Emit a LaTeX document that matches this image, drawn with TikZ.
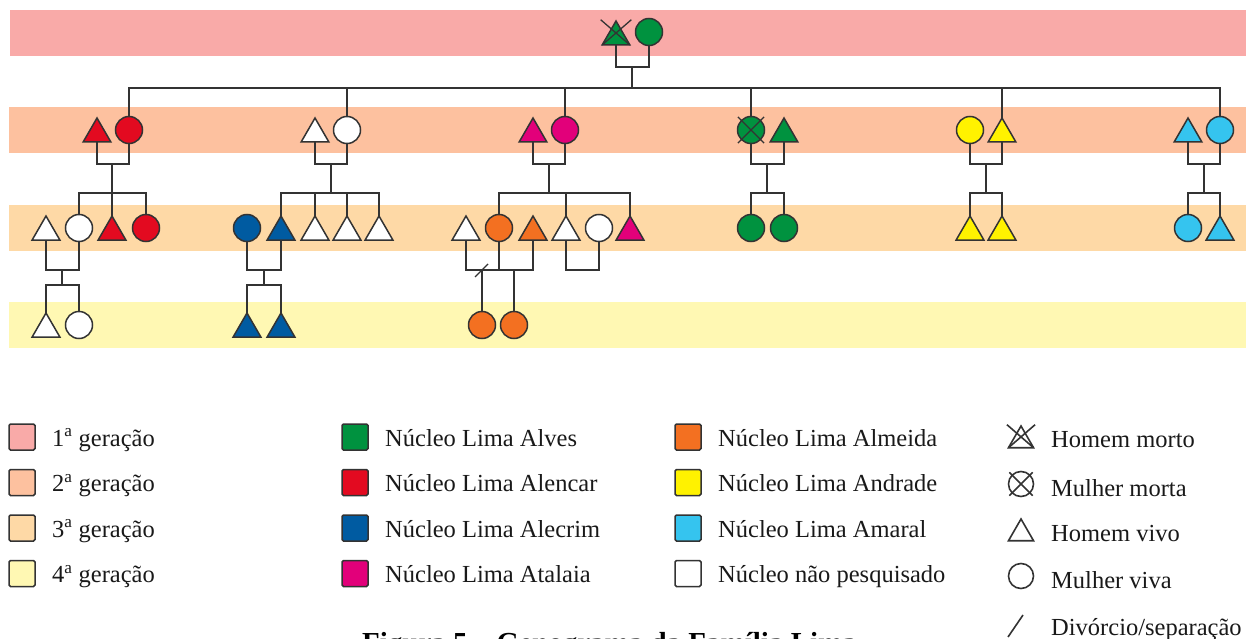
\documentclass[tikz,border=0pt]{standalone}
\usepackage{fontspec}
\setmainfont{Liberation Serif}
\usetikzlibrary{shapes.geometric}
\definecolor{gena}{HTML}{F9AAA8}
\definecolor{genb}{HTML}{FDC19F}
\definecolor{genc}{HTML}{FED9A6}
\definecolor{gend}{HTML}{FFF8B3}
\definecolor{alves}{HTML}{00923F}
\definecolor{alencar}{HTML}{E30A20}
\definecolor{alecrim}{HTML}{005BA1}
\definecolor{atalaia}{HTML}{E2007A}
\definecolor{almeida}{HTML}{F37021}
\definecolor{andrade}{HTML}{FFF200}
\definecolor{amaral}{HTML}{35C4EF}
\definecolor{lc}{HTML}{333333}
\tikzset{
  person/.style={draw=lc, line width=1.5pt, inner sep=0pt, outer sep=0pt},
  circ/.style={person, circle, minimum size=27pt},
  tri/.style={person, regular polygon, regular polygon sides=3, minimum size=32pt, yshift=-4pt},
  conn/.style={draw=lc, line width=1.4pt},
  deadmark/.style={draw=lc, line width=1.3pt},
  keybox/.style={draw=lc, line width=1.5pt, rounded corners=1.5pt, minimum size=26pt, inner sep=0pt},
  lbl/.style={anchor=base west, inner sep=0pt, font=\fontsize{24.5}{28}\selectfont, text=black!90},
  ktri/.style={draw=lc, line width=1.6pt, inner sep=0pt, outer sep=0pt, regular polygon, regular polygon sides=3, minimum size=29pt, yshift=-3.5pt},
  kcirc/.style={draw=lc, line width=1.6pt, inner sep=0pt, outer sep=0pt, circle, minimum size=25pt},
}
\begin{document}
\begin{tikzpicture}[x=1pt,y=-1pt]
\useasboundingbox (0,0) rectangle (1246,639);
% generation bands
\fill[gena] (9.5,10) rectangle (1246,56);
\fill[genb] (9,107) rectangle (1246,153);
\fill[genc] (9,205) rectangle (1246,251);
\fill[gend] (9,302) rectangle (1246,348);

% ---------- generation 1
\node[tri, fill=alves] (g1m) at (616,33) {};
\node[circ, fill=alves] (g1f) at (649,32) {};
\draw[deadmark, shorten >=-2pt] (g1m.corner 2) -- (g1m.corner 3 |- g1m.corner 1);
\draw[deadmark, shorten >=-2pt] (g1m.corner 3) -- (g1m.corner 2 |- g1m.corner 1);
\coordinate (k0) at (632,67);
\coordinate (s0) at (632,88);

% ---------- generation 2
\node[tri, fill=alencar] (a2m) at (97,130) {};
\node[circ, fill=alencar] (a2f) at (129,130) {};
\node[tri, fill=white] (b2m) at (315,130) {};
\node[circ, fill=white] (b2f) at (347,130) {};
\node[tri, fill=atalaia] (c2m) at (533,130) {};
\node[circ, fill=atalaia] (c2f) at (565,130) {};
\node[circ, fill=alves] (e2f) at (751,130) {};
\node[tri, fill=alves] (e2m) at (784,130) {};
\node[circ, fill=andrade] (f2f) at (970,130) {};
\node[tri, fill=andrade] (f2m) at (1002,130) {};
\node[tri, fill=amaral] (h2m) at (1188,130) {};
\node[circ, fill=amaral] (h2f) at (1220,130) {};
\draw[deadmark, shorten <=-5pt, shorten >=-5pt] (e2f.north west) -- (e2f.south east);
\draw[deadmark, shorten <=-5pt, shorten >=-5pt] (e2f.north east) -- (e2f.south west);

% ---------- generation 3
\node[tri, fill=white] (a3h) at (46,228) {};
\node[circ, fill=white] (a3f) at (79,228) {};
\node[tri, fill=alencar] (a3m) at (112,228) {};
\node[circ, fill=alencar] (a3g) at (146,228) {};

\node[circ, fill=alecrim] (b3w) at (247,228) {};
\node[tri, fill=alecrim] (b3m) at (281,228) {};
\node[tri, fill=white] (b3n) at (315,228) {};
\node[tri, fill=white] (b3o) at (347,228) {};
\node[tri, fill=white] (b3p) at (379,228) {};

\node[tri, fill=white] (c3h) at (466,228) {};
\node[circ, fill=almeida] (c3f) at (499,228) {};
\node[tri, fill=almeida] (c3k) at (533,228) {};
\node[tri, fill=white] (c3m) at (566,228) {};
\node[circ, fill=white] (c3w) at (599,228) {};
\node[tri, fill=atalaia] (c3n) at (630,228) {};

\node[circ, fill=alves] (e3a) at (751,228) {};
\node[circ, fill=alves] (e3b) at (784,228) {};

\node[tri, fill=andrade] (f3a) at (970,228) {};
\node[tri, fill=andrade] (f3b) at (1002,228) {};

\node[circ, fill=amaral] (h3a) at (1188,228) {};
\node[tri, fill=amaral] (h3b) at (1220,228) {};

% ---------- generation 4
\node[tri, fill=white] (a4m) at (46,325) {};
\node[circ, fill=white] (a4f) at (79,325) {};
\node[tri, fill=alecrim] (b4a) at (247,325) {};
\node[tri, fill=alecrim] (b4b) at (281,325) {};
\node[circ, fill=almeida] (c4a) at (482,325) {};
\node[circ, fill=almeida] (c4b) at (514,325) {};

% ---------- connectors
% gen 1
\draw[conn] (g1m.side 2) |- (k0) -| (g1f.south);
\draw[conn] (k0) -- (s0);
\draw[conn] (s0) -| (a2f.north);
\draw[conn] (s0) -| (b2f.north);
\draw[conn] (s0) -| (c2f.north);
\draw[conn] (s0) -| (e2f.north);
\draw[conn] (s0) -| (f2m.corner 1);
\draw[conn] (s0) -| (h2f.north);

% Alencar
\coordinate (ka) at (112,164);
\coordinate (sa) at (112,193);
\draw[conn] (a2m.side 2) |- (ka) -| (a2f.south);
\draw[conn] (ka) -- (sa);
\draw[conn] (sa) -| (a3f.north);
\draw[conn] (sa) -- (a3m.corner 1);
\draw[conn] (sa) -| (a3g.north);
\coordinate (ka3) at (62,270);
\coordinate (sa3) at (62,285);
\draw[conn] (a3h.side 2) |- (ka3) -| (a3f.south);
\draw[conn] (ka3) -- (sa3);
\draw[conn] (sa3) -| (a4m.corner 1);
\draw[conn] (sa3) -| (a4f.north);

% not researched couple
\coordinate (kb) at (331,164);
\coordinate (sb) at (331,193);
\draw[conn] (b2m.side 2) |- (kb) -| (b2f.south);
\draw[conn] (kb) -- (sb);
\draw[conn] (sb) -| (b3m.corner 1);
\draw[conn] (sb) -| (b3n.corner 1);
\draw[conn] (sb) -| (b3o.corner 1);
\draw[conn] (sb) -| (b3p.corner 1);
\coordinate (kb3) at (264,270);
\coordinate (sb3) at (264,285);
\draw[conn] (b3w.south) |- (kb3) -| (b3m.side 2);
\draw[conn] (kb3) -- (sb3);
\draw[conn] (sb3) -| (b4a.corner 1);
\draw[conn] (sb3) -| (b4b.corner 1);

% Atalaia
\coordinate (kc) at (549,164);
\coordinate (sc) at (549,193);
\draw[conn] (c2m.side 2) |- (kc) -| (c2f.south);
\draw[conn] (kc) -- (sc);
\draw[conn] (sc) -| (c3f.north);
\draw[conn] (sc) -| (c3m.corner 1);
\draw[conn] (sc) -| (c3n.corner 1);
\coordinate (kc1) at (482,270);
\coordinate (kc2) at (514,270);
\draw[conn] (c3h.side 2) |- (kc1) -- (kc2) -| (c3k.side 2);
\draw[conn] (c3f.south) -- (c3f.south |- kc1);
\draw[conn] ([shift={(-7,7)}]kc1) -- ([shift={(6,-6)}]kc1);
\draw[conn] (kc1) -- (c4a.north);
\draw[conn] (kc2) -- (c4b.north);
\coordinate (kc3) at (582,270);
\draw[conn] (c3m.side 2) |- (kc3) -| (c3w.south);

% Alves
\coordinate (ke) at (767,164);
\coordinate (se) at (767,193);
\draw[conn] (e2f.south) |- (ke) -| (e2m.side 2);
\draw[conn] (ke) -- (se);
\draw[conn] (se) -| (e3a.north);
\draw[conn] (se) -| (e3b.north);

% Andrade
\coordinate (kf) at (986,164);
\coordinate (sf) at (986,193);
\draw[conn] (f2f.south) |- (kf) -| (f2m.side 2);
\draw[conn] (kf) -- (sf);
\draw[conn] (sf) -| (f3a.corner 1);
\draw[conn] (sf) -| (f3b.corner 1);

% Amaral
\coordinate (kh) at (1204,164);
\coordinate (sh) at (1204,193);
\draw[conn] (h2m.side 2) |- (kh) -| (h2f.south);
\draw[conn] (kh) -- (sh);
\draw[conn] (sh) -| (h3a.north);
\draw[conn] (sh) -| (h3b.corner 1);

% ---------- legend
\node[keybox, fill=gena] (k1) at (22,437) {};
\node[keybox, fill=genb] (k2) at (22,482.5) {};
\node[keybox, fill=genc] (k3) at (22,528) {};
\node[keybox, fill=gend] (k4) at (22,573.5) {};
\node[lbl] (l1) at (52,446) {1\textsuperscript{a} geração};
\node[lbl] (l2) at (52,491.5) {2\textsuperscript{a} geração};
\node[lbl] (l3) at (52,537) {3\textsuperscript{a} geração};
\node[lbl] (l4) at (52,582.5) {4\textsuperscript{a} geração};

\node[keybox, fill=alves] (k5) at (355,437) {};
\node[keybox, fill=alencar] (k6) at (355,482.5) {};
\node[keybox, fill=alecrim] (k7) at (355,528) {};
\node[keybox, fill=atalaia] (k8) at (355,573.5) {};
\node[lbl] (l5) at (385,446) {Núcleo Lima Alves};
\node[lbl] (l6) at (385,491.5) {Núcleo Lima Alencar};
\node[lbl] (l7) at (385,537) {Núcleo Lima Alecrim};
\node[lbl] (l8) at (385,582.5) {Núcleo Lima Atalaia};

\node[keybox, fill=almeida] (k9) at (688,437) {};
\node[keybox, fill=andrade] (k10) at (688,482.5) {};
\node[keybox, fill=amaral] (k11) at (688,528) {};
\node[keybox, fill=white] (k12) at (688,573.5) {};
\node[lbl] (l9) at (718,446) {Núcleo Lima Almeida};
\node[lbl] (l10) at (718,491.5) {Núcleo Lima Andrade};
\node[lbl] (l11) at (718,537) {Núcleo Lima Amaral};
\node[lbl] (l12) at (718,582.5) {Núcleo não pesquisado};

\node[ktri] (s1) at (1021,437) {};
\draw[deadmark, line width=1.6pt, shorten >=-2pt] (s1.corner 2) -- (s1.corner 3 |- s1.corner 1);
\draw[deadmark, line width=1.6pt, shorten >=-2pt] (s1.corner 3) -- (s1.corner 2 |- s1.corner 1);
\node[kcirc] (s2) at (1021,484) {};
\draw[deadmark, line width=1.6pt, shorten <=-4pt, shorten >=-4pt] (s2.north west) -- (s2.south east);
\draw[deadmark, line width=1.6pt, shorten <=-4pt, shorten >=-4pt] (s2.north east) -- (s2.south west);
\node[ktri] (s3) at (1021,530) {};
\node[kcirc] (s4) at (1021,576) {};
\coordinate (s5) at (1016,626);
\draw[deadmark, line width=1.6pt] ([shift={(-8,11)}]s5) -- ([shift={(7,-11)}]s5);
\node[lbl] (l13) at (1051,447) {Homem morto};
\node[lbl] (l14) at (1051,496) {Mulher morta};
\node[lbl] (l15) at (1051,541) {Homem vivo};
\node[lbl] (l16) at (1051,588) {Mulher viva};
\node[lbl] (l17) at (1051,635) {Divórcio/separação};

% caption (cut by the page edge)
\node[anchor=base west, inner sep=0pt, font=\bfseries\fontsize{29}{32}\selectfont] (cap) at (362,652) {Figura 5 – Genograma da Família Lima};
\end{tikzpicture}
\end{document}
